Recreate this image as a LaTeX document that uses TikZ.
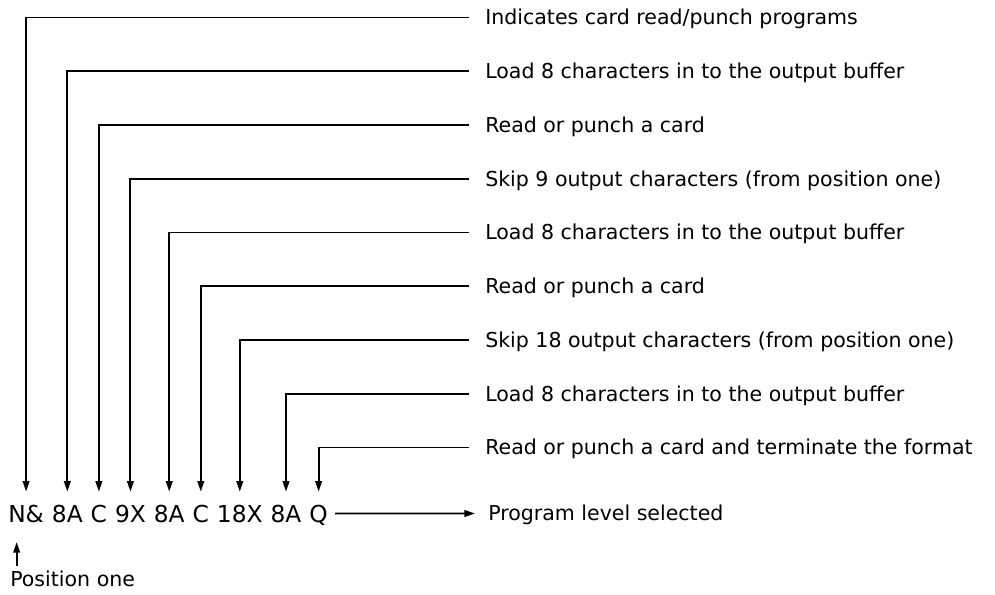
\documentclass[tikz,border=0pt]{standalone}
\usepackage{fontspec}
\setmainfont{DejaVu Sans}
\usetikzlibrary{arrows.meta,calc}
\begin{document}
\begin{tikzpicture}[x=0.75pt,y=-0.75pt,
  lab/.style={anchor=west,inner sep=0pt,text height=11.24pt,text depth=0pt,font=\fontsize{15.4}{18}\selectfont},
  tok/.style={anchor=base west,inner sep=0pt,text height=12.8pt,text depth=0pt,font=\fontsize{17.5}{20}\selectfont},
  arr/.style={line width=1.4pt,-{Triangle[length=8pt,width=5pt]}},
  lead/.style={arr,shorten >=9.75pt}]
\useasboundingbox (0,0) rectangle (995,595);
% bottom code line
\node[tok] (t1) at (8,522) {N\&};
\node[tok] (t2) at ([xshift=5.6pt]t1.base east) {8A};
\node[tok] (t3) at ([xshift=5.6pt]t2.base east) {C};
\node[tok] (t4) at ([xshift=5.6pt]t3.base east) {9X};
\node[tok] (t5) at ([xshift=5.6pt]t4.base east) {8A};
\node[tok] (t6) at ([xshift=5.6pt]t5.base east) {C};
\node[tok] (t7) at ([xshift=5.6pt]t6.base east) {18X};
\node[tok] (t8) at ([xshift=5.6pt]t7.base east) {8A};
\node[tok] (t9) at ([xshift=5.6pt]t8.base east) {Q};
% labels
\node[lab] (l1) at (485,17.5) {Indicates card read/punch programs};
\node[lab] (l2) at (485,71.25) {Load 8 characters in to the output buffer};
\node[lab] (l3) at (485,125) {Read or punch a card};
\node[lab] (l4) at (485,178.75) {Skip 9 output characters (from position one)};
\node[lab] (l5) at (485,232.5) {Load 8 characters in to the output buffer};
\node[lab] (l6) at (485,286.25) {Read or punch a card};
\node[lab] (l7) at (485,340) {Skip 18 output characters (from position one)};
\node[lab] (l8) at (485,393.75) {Load 8 characters in to the output buffer};
\node[lab] (l9) at (485,447.5) {Read or punch a card and terminate the format};
\node[lab] (prog) at (488,513.5) {Program level selected};
\node[lab,anchor=base west] (pos) at (10,586) {Position one};
% leaders
\foreach \i in {1,...,9}{
  \draw[lead] ([xshift=-12pt]l\i.west) -| (t\i.north);
}
\draw[arr] ([xshift=5.25pt]t9.east) -- ([xshift=-9.75pt]prog.west);
\coordinate (ncen) at ([xshift=6.5pt]t1.base west);
\draw[arr] ($(pos.north -| ncen)+(0,-5)$) -- ($(ncen)+(0,20)$);
\end{tikzpicture}
\end{document}
